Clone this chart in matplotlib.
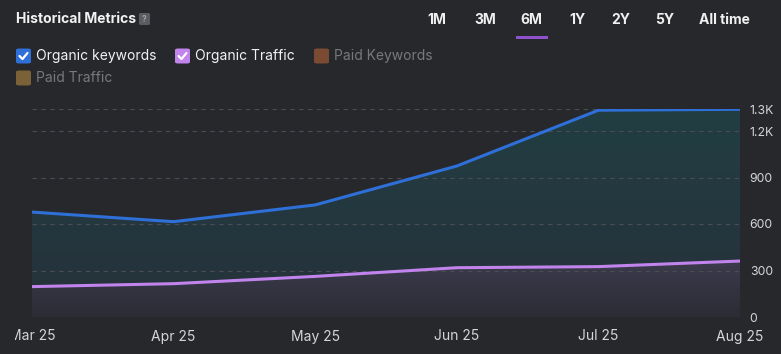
import matplotlib
matplotlib.use("Agg")
import matplotlib.pyplot as plt
from matplotlib.patches import FancyBboxPatch, Rectangle
from matplotlib.colors import LinearSegmentedColormap
from matplotlib.transforms import Bbox
import numpy as np

plt.rcParams["font.family"] = ["Inter", "DejaVu Sans"]

BG = "#26282c"
BLUE = "#2f6fd8"
PURPLE = "#c183ec"
GRID = "#4a4d52"
TICK = "#d6d6d8"

months = ["Mar 25", "Apr 25", "May 25", "Jun 25", "Jul 25", "Aug 25"]
organic_keywords = [677, 615, 723, 974, 1334, 1340]
organic_traffic = [196, 215, 262, 318, 325, 361]
ytick_vals = [0, 300, 600, 900, 1200, 1340]
ytick_labels = ["0", "300", "600", "900", "1.2K", "1.3K"]
tabs = ["1M", "3M", "6M", "1Y", "2Y", "5Y", "All time"]
legend_items = [("Organic keywords", BLUE, True), ("Organic Traffic", PURPLE, True),
                ("Paid Keywords", "#7b4a33", False), ("Paid Traffic", "#7a6137", False)]

W, H = 781, 354
fig = plt.figure(figsize=(W / 100, H / 100), dpi=100, facecolor=BG)

# ── chart axes ───────────────────────────────────────────────────────────────
x0, x1, yb, yt = 32, 740, 317, 109.3
ax = fig.add_axes([x0 / W, 1 - yb / H, (x1 - x0) / W, (yb - yt) / H])
ax.set_facecolor(BG)
x = np.arange(len(months))
ymax = ytick_vals[-1]
ax.set_xlim(0, len(months) - 1)
ax.set_ylim(0, ymax)


def gradient_fill(ax, xs, ys, top_col, bot_col, z):
    poly = ax.fill_between(xs, ys, 0, color="none", lw=0, zorder=z)
    cmap = LinearSegmentedColormap.from_list("g", [bot_col, top_col])
    grad = np.linspace(0, 1, 256).reshape(-1, 1)
    im = ax.imshow(grad, cmap=cmap, aspect="auto", origin="lower",
                   extent=[xs[0], xs[-1], 0, max(ys)], zorder=z)
    im.set_clip_path(poly.get_paths()[0], transform=ax.transData)


gradient_fill(ax, x, organic_keywords, "#213e43", "#27313a", 1)
gradient_fill(ax, x, organic_traffic, "#3b3b4d", "#2b2c34", 2)

for v in ytick_vals:
    ax.axhline(v, color=GRID, lw=0.8, ls=(0, (4, 4)), zorder=3)

ax.plot(x, organic_keywords, color=BLUE, lw=2.2, zorder=5, solid_capstyle="butt")
ax.plot(x, organic_traffic, color=PURPLE, lw=2.2, zorder=4, solid_capstyle="butt")

for s in ax.spines.values():
    s.set_visible(False)
ax.yaxis.tick_right()
ax.set_yticks(ytick_vals)
ax.set_yticklabels(ytick_labels)
ax.set_xticks(x)
ax.set_xticklabels(months)
ax.tick_params(axis="y", length=0, pad=7, labelsize=8.8, labelcolor=TICK)
ax.tick_params(axis="x", length=0, pad=9, labelsize=10, labelcolor=TICK)

# first month label is cut by the card's left padding
clip = Bbox.from_extents(15, 0, W, H)
ax.get_xticklabels()[0].set_clip_box(clip)
ax.get_xticklabels()[0].set_clip_on(True)

# ── header ───────────────────────────────────────────────────────────────────
def px(xp, yp):
    return xp / W, 1 - yp / H

fig.text(*px(16, 19), "Historical Metrics", color="#f2f2f2", fontsize=10,
         fontweight="bold", va="center", ha="left")
fig.patches.append(FancyBboxPatch(px(139, 25), 11 / W, 12 / H,
                   boxstyle="round,pad=0,rounding_size=0.003",
                   transform=fig.transFigure, facecolor="#5a5c61", edgecolor="none"))
fig.text(*px(144.5, 19), "?", color="#a0a2a6", fontsize=6, va="center", ha="center",
         fontweight="bold")

tab_x = [437, 485, 531, 577, 621, 665, 724]
for t, tx in zip(tabs, tab_x):
    fig.text(*px(tx, 20), t, color="#f0f0f0", fontsize=10, fontweight="bold",
             va="center", ha="center")
fig.patches.append(Rectangle(px(516, 38.5), 32 / W, 3 / H, transform=fig.transFigure,
                             facecolor="#8d52cc", edgecolor="none"))

# ── legend ───────────────────────────────────────────────────────────────────
leg_pos = [(16, 56), (175, 56), (314, 56), (16, 78)]
for (label, col, on), (lx, ly) in zip(legend_items, leg_pos):
    fig.patches.append(FancyBboxPatch(px(lx, ly + 7.5), 15 / W, 15 / H,
                       boxstyle="round,pad=0,rounding_size=0.004",
                       transform=fig.transFigure, facecolor=col, edgecolor="none"))
    if on:
        cx, cy = lx + 7.5, ly
        xs = [cx - 4, cx - 1, cx + 4]
        ys = [cy, cy + 3, cy - 3]
        fig.lines.append(plt.Line2D([a / W for a in xs], [1 - b / H for b in ys],
                                    transform=fig.transFigure, color="white", lw=1.6,
                                    solid_capstyle="round", solid_joinstyle="round"))
    fig.text(*px(lx + 20, ly), label, color="#f2f2f2" if on else "#77797d",
             fontsize=10, va="center", ha="left")

fig.savefig("out.png", dpi=100, facecolor=BG)
